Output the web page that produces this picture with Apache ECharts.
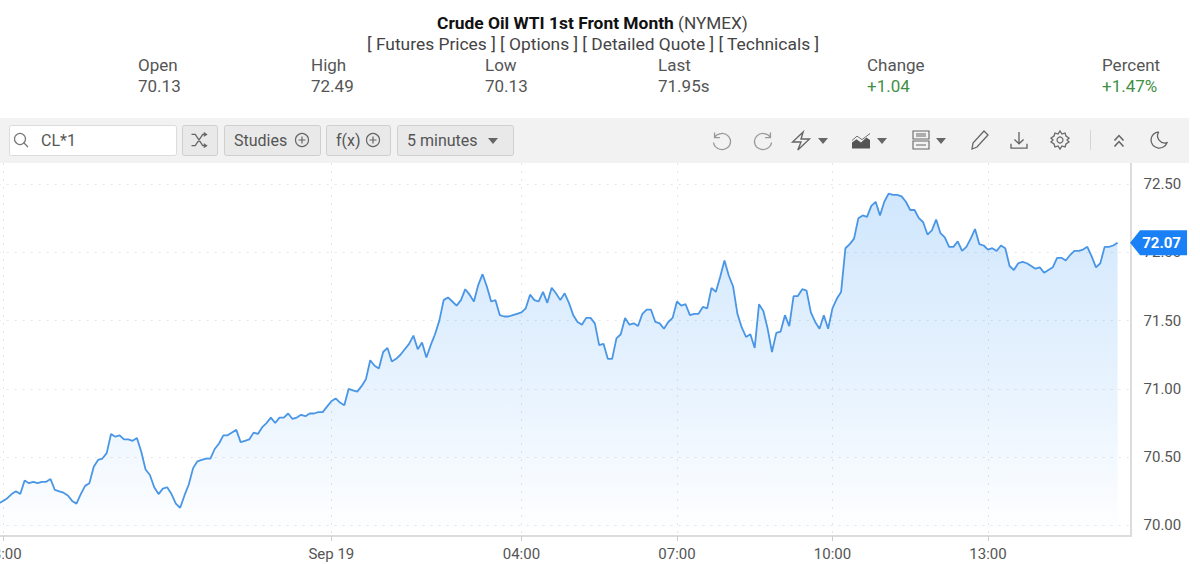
<!DOCTYPE html>
<html><head><meta charset="utf-8">
<style>html,body{margin:0;padding:0;background:#fff}#c{width:1200px;height:564px}</style>
<script src="https://cdn.jsdelivr.net/npm/echarts@6/dist/echarts.min.js"></script>
</head><body><div id="c"></div>
<script>
const prices = [
70.16,70.18,70.20,70.23,70.25,70.23,70.33,70.31,70.32,70.31,70.32,70.32,70.34,70.26,70.25,70.24,70.22,70.18,70.16,70.23,
70.29,70.31,70.43,70.48,70.49,70.53,70.67,70.65,70.66,70.63,70.63,70.62,70.64,70.54,70.41,70.37,70.28,70.23,70.27,70.28,
70.23,70.16,70.13,70.22,70.30,70.42,70.47,70.48,70.49,70.49,70.56,70.60,70.66,70.66,70.68,70.70,70.61,70.62,70.63,70.68,
70.67,70.72,70.75,70.79,70.75,70.79,70.79,70.82,70.78,70.79,70.81,70.80,70.82,70.82,70.83,70.83,70.87,70.91,70.93,70.90,
70.88,71.00,70.99,70.98,71.02,71.07,71.21,71.17,71.15,71.27,71.30,71.20,71.22,71.25,71.29,71.33,71.39,71.29,71.34,71.23,
71.32,71.40,71.50,71.65,71.67,71.64,71.61,71.65,71.73,71.69,71.64,71.76,71.84,71.75,71.64,71.65,71.54,71.53,71.53,71.54,
71.55,71.56,71.59,71.69,71.65,71.64,71.71,71.63,71.74,71.70,71.65,71.70,71.63,71.54,71.49,71.47,71.52,71.52,71.48,71.32,
71.33,71.22,71.22,71.37,71.40,71.52,71.47,71.48,71.46,71.55,71.58,71.58,71.49,71.48,71.44,71.49,71.52,71.64,71.61,71.62,
71.54,71.55,71.55,71.60,71.59,71.74,71.71,71.82,71.94,71.83,71.75,71.55,71.45,71.38,71.40,71.30,71.62,71.57,71.44,71.27,
71.41,71.42,71.54,71.46,71.68,71.68,71.73,71.72,71.56,71.49,71.44,71.54,71.44,71.59,71.66,71.71,72.03,72.06,72.10,72.25,
72.27,72.26,72.34,72.37,72.27,72.37,72.43,72.42,72.42,72.41,72.37,72.31,72.31,72.25,72.22,72.13,72.16,72.24,72.14,72.11,
72.04,72.04,72.08,72.01,72.04,72.10,72.17,72.06,72.05,72.02,72.03,72.01,72.05,72.03,71.90,71.87,71.92,71.93,71.92,71.90,
71.88,71.89,71.85,71.87,71.89,71.96,71.96,71.94,71.98,72.01,72.01,72.02,72.04,71.97,71.89,71.92,72.04,72.04,72.05,72.07
];
const slotCount = 263;
const xTickSlots = [1,77,121,157,193,229];
const xTickLabels = ['18:00','Sep 19','04:00','07:00','10:00','13:00'];
const yTicks = [70,70.5,71,71.5,72,72.5];
const lastPrice = 72.07;
const quoteHeads = ['Open','High','Low','Last','Change','Percent'];
const quoteVals = ['70.13','72.49','70.13','71.95s','+1.04','+1.47%'];

const categories = Array.from({length:slotCount},(_,i)=>{const k=xTickSlots.indexOf(i);return k>=0?xTickLabels[k]:'';});
const isTick = i => xTickSlots.indexOf(i)>=0;
const FONT='Roboto';
const G=[];
let iconId=0;
function txt(x,y,text,o){G.push({type:'text',x,y,silent:true,z:50,style:Object.assign({text,fontFamily:FONT,fontSize:17,fill:'#555',textVerticalAlign:'middle',textBaseline:'middle'},o||{})});}
function box(x,y,w,h,fill,stroke){G.push({type:'rect',silent:true,z:40,shape:{x:x+.5,y:y+.5,width:w,height:h,r:2},style:{fill,stroke:stroke||'none',lineWidth:1}});}
function ic(d,cx,cy,w,h,o){
  const name='tbIcon'+(iconId++);
  const Clz=echarts.graphic.extendPath(d,{});
  echarts.graphic.registerShape(name,Clz);
  const bb=new Clz({}).getBoundingRect();
  const sx=w/(bb.width||1), sy=h/(bb.height||1);
  G.push({type:name,silent:true,z:50,x:cx-w/2-bb.x*sx,y:cy-h/2-bb.y*sy,scaleX:sx,scaleY:sy,
    style:Object.assign({fill:'none',stroke:'#666',lineWidth:1.3,strokeNoScale:true},o||{})});
}
function tri(cx,cy){ic('M0,0 L10,0 L5,6 Z',cx,cy,10,6,{fill:'#666',stroke:'none'});}
function plus(cx,cy){G.push({type:'circle',silent:true,z:50,shape:{cx,cy,r:6.5},style:{fill:'none',stroke:'#666',lineWidth:1.2}});ic('M4,0 L4,8 M0,4 L8,4',cx,cy,7,7,{lineWidth:1.2});}

txt(437,23,'Crude Oil WTI 1st Front Month',{fontWeight:'bold',fill:'#111',fontSize:17.4});
txt(678,23,'(NYMEX)',{fontSize:17.2,fill:'#444'});
txt(593,44,'[ Futures Prices ] [ Options ] [ Detailed Quote ] [ Technicals ]',{textAlign:'center',align:'center',fontSize:17.4,fill:'#444'});
[138,311,485,658,867,1102].forEach((x,i)=>{
  txt(x,65,quoteHeads[i],{fontSize:17,fill:'#555'});
  txt(x,86,quoteVals[i],{fontSize:17,fill:i>=4?'#3f8f45':'#555'});
});

G.push({type:'rect',silent:true,z:30,shape:{x:0,y:118,width:1189,height:45},style:{fill:'#f2f2f2'}});
box(9,125,167,30,'#fff','#dcdcdc');
G.push({type:'circle',silent:true,z:50,shape:{cx:20,cy:139,r:5.5},style:{fill:'none',stroke:'#777',lineWidth:1.2}});
ic('M0,0 L4,4',26,145,4,4,{stroke:'#777',lineWidth:1.2});
txt(41,140,'CL*1',{fontSize:16,fill:'#555'});
box(182,125,35,30,'#e9e9e9','#cfcfcf');
ic('M0,2 L4,2 L12,14 L16,14 M0,14 L4,14 L12,2 L16,2 M13,0 L16,2 L13,4 M13,12 L16,14 L13,16',199,140,15,15);
box(224,125,96,30,'#e9e9e9','#cfcfcf');
txt(234,140,'Studies',{fontSize:16,fill:'#555'}); plus(302,140);
box(326,125,64,30,'#e9e9e9','#cfcfcf');
txt(336,140,'f(x)',{fontSize:16,fill:'#555'}); plus(373,140);
box(397,125,116,30,'#e9e9e9','#cfcfcf');
txt(407,140,'5 minutes',{fontSize:16,fill:'#555'}); tri(493,141);

ic('M4,4 L4,9 L9,9 M4,9 A8,8 0 1 1 3,14',722,141,17,17,{stroke:'#999'});
ic('M16,4 L16,9 L11,9 M16,9 A8,8 0 1 0 17,14',763,141,17,17,{stroke:'#999'});
ic('M11,0 L1,10 L9,10 L6,18 L17,7 L9,7 Z',801,141,17,18); tri(823,141);
ic('M0,16 L0,9 L5,5 L10,9 L16,3 L20,6 L20,16 Z',861,143,18,11,{fill:'#555',stroke:'none'});
ic('M0,8 L5,3 L10,7 L18,0',861,137,18,7,{lineWidth:1});tri(882,141);
ic('M0,0 H16 V8 H0 Z M0,10 H16 V18 H0 Z M3,3 H13 M3,5 H13 M3,14 H13',921,140,16,18,{lineWidth:1.1}); tri(941,141);
ic('M13,1 L17,5 L6,17 L1,19 L2,13 Z',980,140,16,18);
ic('M8,0 L8,11 M4,7 L8,11 L12,7 M1,11 L1,15 L15,15 L15,11',1019,140,16,16);
ic('M10,1 L12,4 L15,3 L16,6 L19,8 L17,10 L19,12 L16,14 L15,17 L12,16 L10,19 L8,16 L5,17 L4,14 L1,12 L3,10 L1,8 L4,6 L5,3 L8,4 Z',1060,140,18,18);
G.push({type:'circle',silent:true,z:50,shape:{cx:1060,cy:140,r:3},style:{fill:'none',stroke:'#666',lineWidth:1.2}});
G.push({type:'line',silent:true,z:50,shape:{x1:1090.5,y1:130,x2:1090.5,y2:150},style:{stroke:'#d4d4d4',lineWidth:1}});
ic('M0,5 L4,0 L8,5 M0,11 L4,6 L8,11',1119,141,9,11,{lineWidth:1.4});
ic('M9,0 A9,9 0 1 0 18,12 A8,8 0 0 1 9,0',1159,140,16,16);

const chart=echarts.init(document.getElementById('c'),null,{renderer:'svg',width:1200,height:564});
chart.setOption({
  animation:false,
  backgroundColor:'#fff',
  grid:{left:-1.3,top:163,width:1131.84,height:373,containLabel:false,outerBoundsMode:'none'},
  xAxis:{type:'category',boundaryGap:false,data:categories,
    axisLine:{show:true,lineStyle:{color:'#dcdcdc',width:2}},
    axisTick:{show:true,interval:(i)=>isTick(i),length:5,lineStyle:{color:'#ccc'}},
    axisLabel:{show:true,interval:(i)=>isTick(i),margin:10,hideOverlap:false,showMinLabel:true,fontFamily:FONT,fontSize:15,color:'#555'},
    splitLine:{show:true,interval:(i)=>isTick(i),lineStyle:{color:'#e6e6e6',type:[2,6],width:1}}
  },
  yAxis:{type:'value',position:'right',min:69.923,max:72.654,scale:true,
    axisLine:{show:true,lineStyle:{color:'#dcdcdc',width:2}},
    axisTick:{show:false,customValues:yTicks},
    axisLabel:{customValues:yTicks,margin:13,fontFamily:FONT,fontSize:15,color:'#555',formatter:v=>v.toFixed(2),showMinLabel:true,showMaxLabel:true},
    splitLine:{show:true,lineStyle:{color:'#e6e6e6',type:[2,6],width:1}}
  },
  series:[{type:'line',data:prices,symbol:'none',smooth:false,clip:true,origin:'start',
    lineStyle:{color:'#4a96e6',width:1.8},
    areaStyle:{color:{type:'linear',x:0,y:0,x2:0,y2:1,colorStops:[{offset:0,color:'rgba(33,140,245,0.30)'},{offset:0.6,color:'rgba(33,140,245,0.14)'},{offset:1,color:'rgba(33,140,245,0)'}]}},
    markPoint:{silent:true,animation:false,data:[{coord:[prices.length-1,lastPrice],value:lastPrice}],
      symbol:'path://M0,12.5 L10,0 L57,0 L57,25 L10,25 Z',symbolSize:[57,25],symbolKeepAspect:false,symbolOffset:[41,0],
      itemStyle:{color:'#1a80f5'},
      label:{show:true,position:'inside',offset:[3,0],formatter:()=>lastPrice.toFixed(2),color:'#fff',fontFamily:FONT,fontWeight:'bold',fontSize:15}
    }
  }],
  graphic:G
});
</script></body></html>
